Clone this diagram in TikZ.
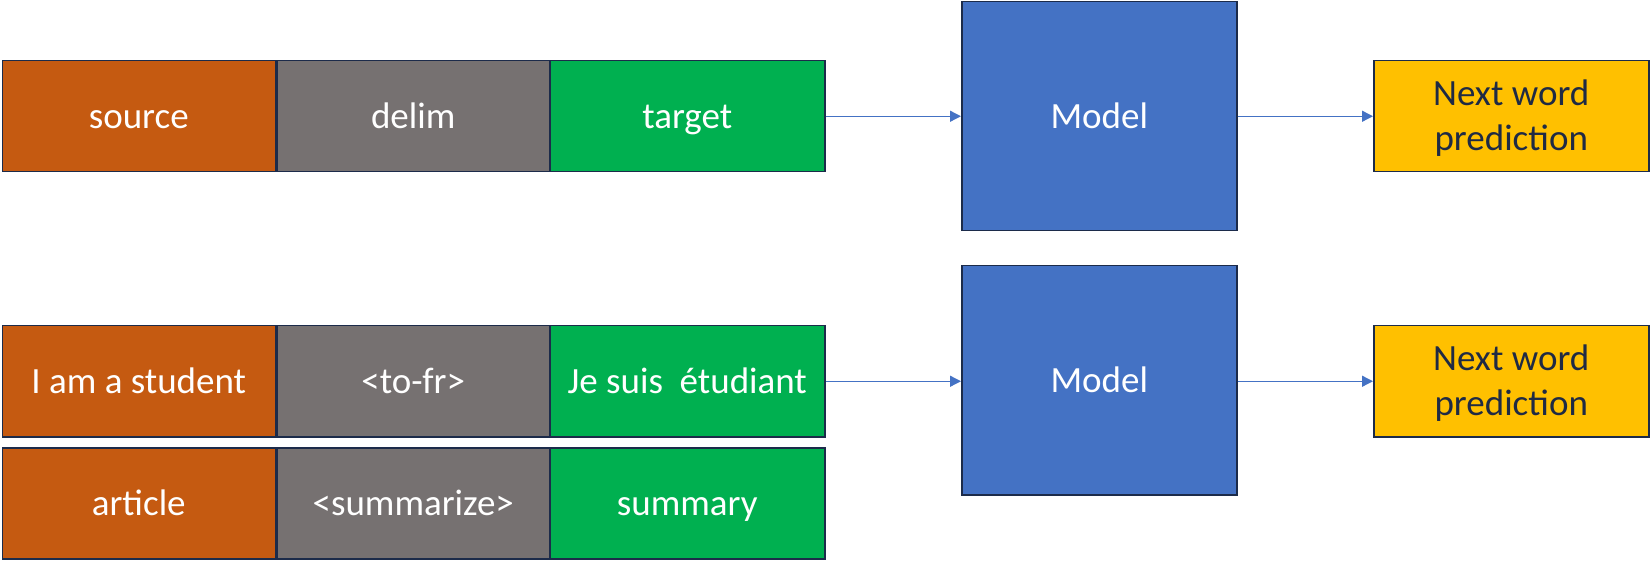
\documentclass[tikz,border=0pt]{standalone}
\usepackage{fontspec}
\setmainfont{Carlito}
\usetikzlibrary{arrows.meta}
\definecolor{srcc}{HTML}{C55A11}
\definecolor{delc}{HTML}{767171}
\definecolor{tgtc}{HTML}{00B050}
\definecolor{modc}{HTML}{4472C4}
\definecolor{predc}{HTML}{FFC000}
\definecolor{edgec}{HTML}{1C2B4A}
\definecolor{predtxt}{HTML}{1F2A44}
\tikzset{
  box/.style={draw=edgec, line width=1.5pt, anchor=north west, inner sep=0pt,
    font=\fontsize{37}{45}\selectfont, text=white, align=center},
  oneline/.style={text height=24pt, text depth=0pt},
  seg/.style={box, oneline, minimum width=273pt, minimum height=111pt},
  modelbox/.style={box, oneline, fill=modc, minimum width=275pt, minimum height=229pt},
  predbox/.style={box, fill=predc, text=predtxt, minimum width=275pt, minimum height=111pt, text depth=3pt},
  arr/.style={draw=modc, line width=1.3pt, -{Triangle[length=11pt,width=11pt]}}
}
\begin{document}
\begin{tikzpicture}[x=1pt,y=-1pt]
\useasboundingbox (0,0) rectangle (1650,561);
% top row
\node[seg, fill=srcc] (s1) at (1.5,60) {source};
\node[seg, fill=delc] (d1) at (276,60) {delim};
\node[seg, fill=tgtc, minimum width=275pt] (t1) at (549,60) {target};
\node[modelbox] (m1) at (961,1) {Model};
\node[predbox] (p1) at (1373,60) {Next word\\prediction};
\draw[arr] (t1.east) -- (t1.east -| m1.west);
\draw[arr] (t1.east -| m1.east) -- (p1.west);
% second row
\node[seg, fill=srcc] (s2) at (1.5,325) {I am a student};
\node[seg, fill=delc] (d2) at (276,325) {<to-fr>};
\node[seg, fill=tgtc, minimum width=275pt] (t2) at (549,325) {Je suis\ \ étudiant};
% third row
\node[seg, fill=srcc] (s3) at (1.5,447) {article};
\node[seg, fill=delc] (d3) at (276,447) {<summarize>};
\node[seg, fill=tgtc, minimum width=275pt] (t3) at (549,447) {summary};
\node[modelbox] (m2) at (961,265) {Model};
\node[predbox] (p2) at (1373,325) {Next word\\prediction};
\draw[arr] (t2.east) -- (t2.east -| m2.west);
\draw[arr] (t2.east -| m2.east) -- (p2.west);
\end{tikzpicture}
\end{document}
